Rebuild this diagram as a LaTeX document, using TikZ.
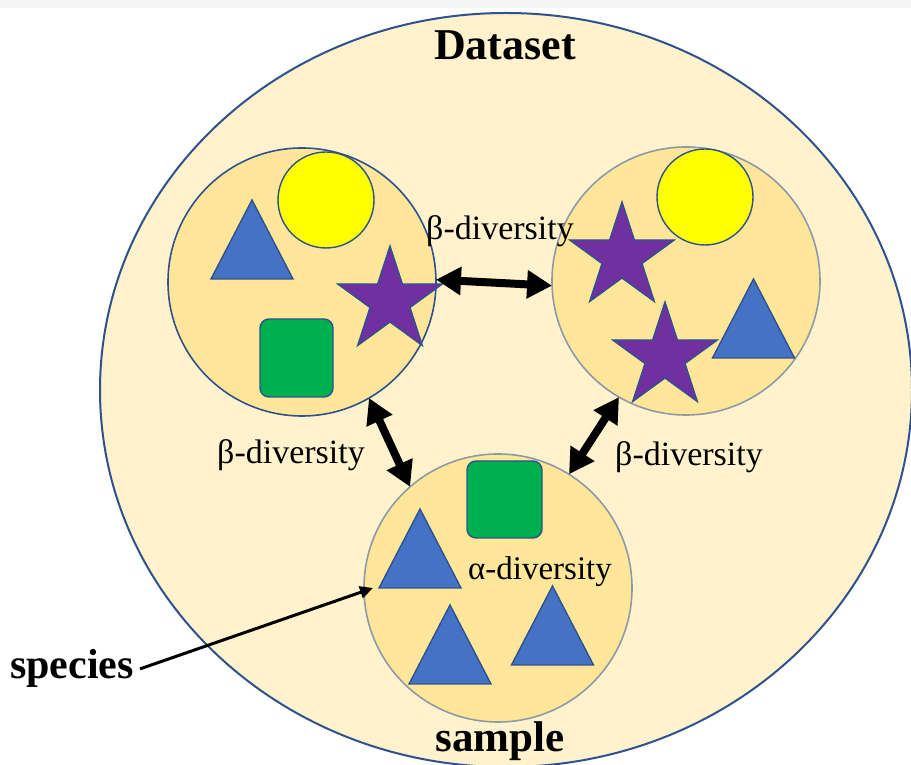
\documentclass[tikz,border=0pt]{standalone}
\usepackage{fontspec}
\setmainfont{Liberation Serif}
\usetikzlibrary{arrows.meta}

\definecolor{datafill}{HTML}{FFF2CC}
\definecolor{samplefill}{HTML}{FFE699}
\definecolor{edgeblue}{HTML}{2F528F}
\definecolor{edgegray}{HTML}{8D9AA8}
\definecolor{triblue}{HTML}{4472C4}
\definecolor{starpurple}{HTML}{7030A0}
\definecolor{boxgreen}{HTML}{00B050}
\definecolor{dotyellow}{HTML}{FFFF00}
\definecolor{topband}{HTML}{F5F5F5}

\tikzset{
  datasetshape/.style={fill=datafill, draw=edgeblue, line width=2pt},
  sample/.style={circle, minimum size=268pt, inner sep=0pt, outer sep=0pt,
                 fill=samplefill, line width=1.6pt},
  dot/.style={circle, minimum size=96pt, inner sep=0pt, outer sep=0pt,
              fill=dotyellow, draw=edgeblue, line width=1.4pt},
  greenbox/.style={rectangle, rounded corners=9pt, inner sep=0pt, outer sep=0pt,
                   fill=boxgreen, draw=edgeblue, line width=1.4pt},
  trishape/.style={fill=triblue, draw=edgeblue, line width=1.4pt, line join=miter},
  starshape/.style={fill=starpurple, draw=edgeblue, line width=1.4pt, line join=miter},
  trisym/.pic={\draw[trishape] (-41,0) -- (41,0) -- (0,79) -- cycle;},
  starsym/.pic={\draw[starshape] (90:55) -- (126:21) -- (162:55) -- (198:21)
     -- (234:55) -- (270:21) -- (306:55) -- (342:21) -- (18:55) -- (54:21) -- cycle;},
  lbl/.style={inner sep=0pt, anchor=base, font=\fontsize{34}{40}\selectfont},
  title/.style={inner sep=0pt, anchor=base, font=\fontsize{44}{50}\selectfont\bfseries},
  biarrow/.style={{Triangle[length=25pt,width=27pt]}-{Triangle[length=25pt,width=27pt]},
                  line width=8pt, black},
  sparrow/.style={-{Triangle[length=13pt,width=12pt]}, line width=3pt, black},
}

\begin{document}
\begin{tikzpicture}[x=1pt, y=1pt]
\useasboundingbox (0,0) rectangle (911,765);

% background and the dataset ellipse (cut by the page edge)
\begin{scope}
  \clip (0,0) rectangle (911,765);
  \fill[white] (0,0) rectangle (911,765);
  \fill[topband] (0,757) rectangle (911,765);
  \draw[datasetshape] (506,375) ellipse [x radius=406, y radius=377];
\end{scope}

% samples
\node[sample, draw=edgeblue] (L) at (302,483) {};
\node[sample, draw=edgegray] (R) at (686,484) {};
\node[sample, draw=edgegray] (B) at (498,177) {};

% left sample
\node[dot] (Ly) at (326,565) {};
\pic at (252,486) {trisym};
\pic at (390,464) {starsym};
\node[greenbox, minimum width=73pt, minimum height=78pt] (Lg) at (296.5,407) {};

% right sample
\node[dot] (Ry) at (705,568) {};
\pic at (622,508) {starsym};
\pic at (665,408) {starsym};
\pic at (753.5,407) {trisym};

% bottom sample
\node[greenbox, minimum width=75pt, minimum height=77pt] (Bg) at (504.5,265.5) {};
\pic at (420,177) {trisym};
\pic at (450,81) {trisym};
\pic at (552.5,100) {trisym};

% labels
\node[title] (ds) at (505,705) {Dataset};
\node[title, font=\fontsize{43}{50}\selectfont\bfseries] (sm) at (500,13) {sample};
\node[title, font=\fontsize{42}{50}\selectfont\bfseries, inner xsep=6pt] (sp) at (72,86) {species};
\node[lbl] (bt) at (500,525) {β-diversity};
\node[lbl] (bl) at (291,301) {β-diversity};
\node[lbl] (br) at (689,299) {β-diversity};
\node[lbl, font=\fontsize{33}{40}\selectfont] (al) at (540,185) {α-diversity};

% connectors
\draw[biarrow] (L.1) -- (R.182);
\draw[biarrow] (L.-60) -- (B.131);
\draw[biarrow] (R.-120) -- (B.58);
\coordinate (sptip) at (373,177);
\draw[sparrow] (sp.east) -- (sptip);
\end{tikzpicture}
\end{document}
